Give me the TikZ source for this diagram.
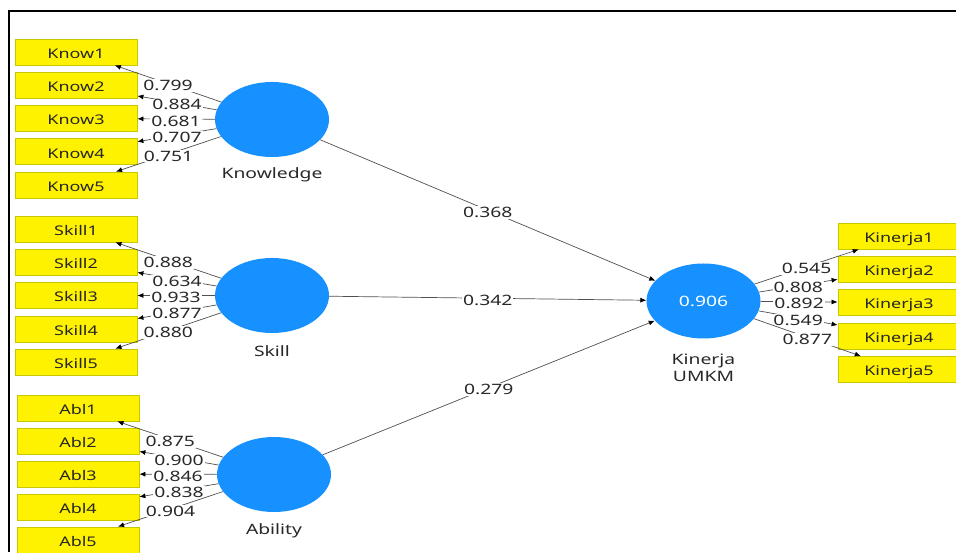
\documentclass[tikz,border=0pt]{standalone}
\usepackage{fontspec}
\usepackage{graphicx}
\setmainfont{Noto Sans}
\usetikzlibrary{shapes.geometric,arrows.meta}
\definecolor{lvblue}{RGB}{22,145,255}
\definecolor{boxborder}{RGB}{200,200,0}
\definecolor{linegray}{RGB}{80,80,80}
\definecolor{textdark}{RGB}{40,40,40}
\newcommand{\stx}[1]{\scalebox{1.35}[1]{#1}}
\begin{document}
\begin{tikzpicture}[x=1pt,y=1pt,
  lv/.style={ellipse, fill=lvblue, minimum width=114pt, minimum height=75pt, inner sep=0pt},
  ind/.style={rectangle, fill=yellow, draw=boxborder, line width=0.8pt, minimum width=122pt, minimum height=26pt, inner sep=0pt, text height=12.7pt, text depth=0pt, font=\fontsize{13.3}{13}\selectfont, text=black!85},
  conn/.style={draw=linegray, line width=0.7pt, -{Latex[length=6pt,width=5pt,color=black]}},
  val/.style={fill=white, inner sep=1pt, font=\fontsize{14.3}{14}\selectfont, text=textdark, yshift=-2pt},
  lvlabel/.style={font=\fontsize{14.3}{17}\selectfont, text=textdark, align=center}
]
\fill[white] (0,0) rectangle (956,552);
\useasboundingbox (0,0) rectangle (956,552);
\draw[line width=2pt] (9,0) -- (9,541) -- (956,541);

% latent variables
\node[lv] (know) at (272,432.5) {};
\node[lv] (skill) at (272,256.5) {};
\node[lv] (abl) at (274,77.5) {};
\node[lv, text=white, font=\fontsize{14.3}{14}\selectfont] (kin) at (703.5,251) {\stx{0.906}};
\node[lvlabel] (knowlab) at (272,377) {\stx{Knowledge}};
\node[lvlabel] (skilllab) at (272,201) {\stx{Skill}};
\node[lvlabel] (abllab) at (274,21) {\stx{Ability}};
\node[lvlabel] (kinlab) at (703.5,184.5) {\stx{Kinerja}\\\stx{UMKM}};

% indicators
\node[ind] (k1) at (76,500) {\stx{Know1}};
\node[ind] (k2) at (76,466.75) {\stx{Know2}};
\node[ind] (k3) at (76,433.5) {\stx{Know3}};
\node[ind] (k4) at (76,400.25) {\stx{Know4}};
\node[ind] (k5) at (76,367) {\stx{Know5}};

\node[ind] (s1) at (76,323) {\stx{Skill1}};
\node[ind] (s2) at (76,290) {\stx{Skill2}};
\node[ind] (s3) at (76,256.5) {\stx{Skill3}};
\node[ind] (s4) at (76,223) {\stx{Skill4}};
\node[ind] (s5) at (76,190) {\stx{Skill5}};

\node[ind] (a1) at (78,144) {\stx{Abl1}};
\node[ind] (a2) at (78,111) {\stx{Abl2}};
\node[ind] (a3) at (78,78) {\stx{Abl3}};
\node[ind] (a4) at (78,45) {\stx{Abl4}};
\node[ind] (a5) at (78,12) {\stx{Abl5}};

\node[ind] (r1) at (899,316) {\stx{Kinerja1}};
\node[ind] (r2) at (899,282.5) {\stx{Kinerja2}};
\node[ind] (r3) at (899,249.5) {\stx{Kinerja3}};
\node[ind] (r4) at (899,216) {\stx{Kinerja4}};
\node[ind] (r5) at (899,182.5) {\stx{Kinerja5}};

% outer loadings
\draw[conn] (know) -- node[val] {\stx{0.799}} (k1);
\draw[conn] (know) -- node[val] {\stx{0.884}} (k2);
\draw[conn] (know) -- node[val] {\stx{0.681}} (k3);
\draw[conn] (know) -- node[val] {\stx{0.707}} (k4);
\draw[conn] (know) -- node[val] {\stx{0.751}} (k5);

\draw[conn] (skill) -- node[val] {\stx{0.888}} (s1);
\draw[conn] (skill) -- node[val] {\stx{0.634}} (s2);
\draw[conn] (skill) -- node[val] {\stx{0.933}} (s3);
\draw[conn] (skill) -- node[val] {\stx{0.877}} (s4);
\draw[conn] (skill) -- node[val] {\stx{0.880}} (s5);

\draw[conn] (abl) -- node[val] {\stx{0.875}} (a1);
\draw[conn] (abl) -- node[val] {\stx{0.900}} (a2);
\draw[conn] (abl) -- node[val] {\stx{0.846}} (a3);
\draw[conn] (abl) -- node[val] {\stx{0.838}} (a4);
\draw[conn] (abl) -- node[val] {\stx{0.904}} (a5);

\draw[conn] (kin) -- node[val] {\stx{0.545}} (r1);
\draw[conn] (kin) -- node[val] {\stx{0.808}} (r2);
\draw[conn] (kin) -- node[val] {\stx{0.892}} (r3);
\draw[conn] (kin) -- node[val] {\stx{0.549}} (r4);
\draw[conn] (kin) -- node[val] {\stx{0.877}} (r5);

% inner model
\draw[conn] (know) -- node[val] {\stx{0.368}} (kin);
\draw[conn] (skill) -- node[val] {\stx{0.342}} (kin);
\draw[conn] (abl) -- node[val] {\stx{0.279}} (kin);
\end{tikzpicture}
\end{document}
